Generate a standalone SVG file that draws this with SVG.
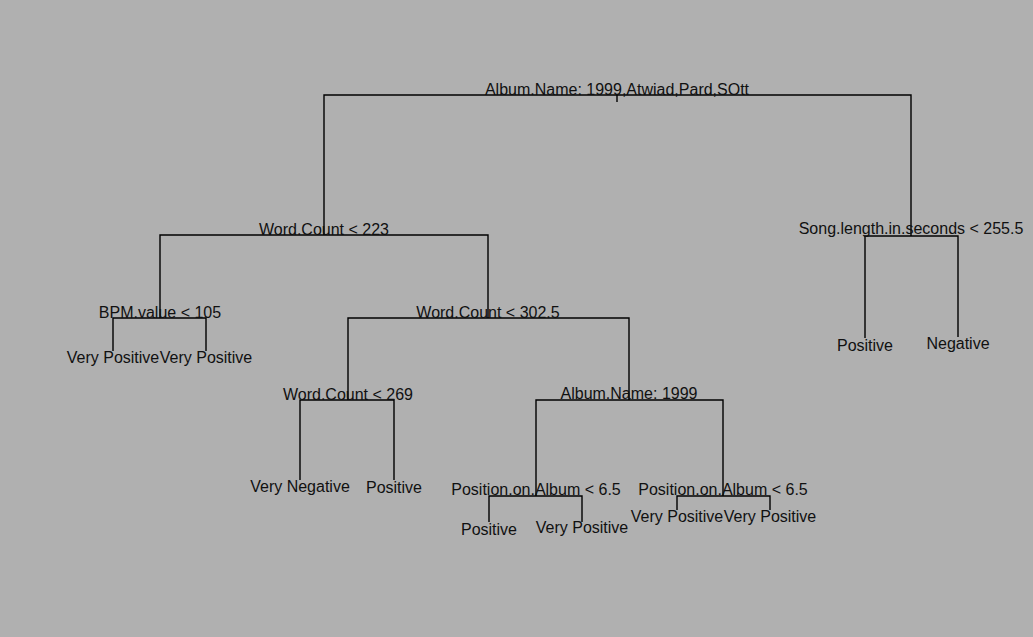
<svg xmlns="http://www.w3.org/2000/svg" width="1033" height="637" viewBox="0 0 1033 637">
<style>
.e{fill:none;stroke:#000;stroke-width:1.4}
text{font-family:"Liberation Sans",Arial,sans-serif;font-size:16px;fill:#111;text-anchor:middle}
</style>
<rect width="1033" height="637" fill="#b0b0b0"/>
<g id="connectors">
<path class="e" d="M617,102V95M324,235V95H911V236"/>
<path class="e" d="M160,318V235H488V318"/>
<path class="e" d="M865,338V236H958V337"/>
<path class="e" d="M113,351V318H206V351"/>
<path class="e" d="M348,400V318H629V400"/>
<path class="e" d="M300,480V400H394V480"/>
<path class="e" d="M536,496V400H723V496"/>
<path class="e" d="M489,522V496H582V522"/>
<path class="e" d="M677,510V496H770V510"/>
</g>
<g id="n1"><text x="617" y="95">Album.Name: 1999,Atwiad,Pard,SOtt</text></g>
<g id="n2"><text x="324" y="235">Word.Count &lt; 223</text></g>
<g id="n3"><text x="911" y="234">Song.length.in.seconds &lt; 255.5</text></g>
<g id="n4"><text x="160" y="318">BPM.value &lt; 105</text></g>
<g id="n5"><text x="488" y="318">Word.Count &lt; 302.5</text></g>
<g id="n6"><text x="113" y="363">Very Positive</text></g>
<g id="n7"><text x="206" y="363">Very Positive</text></g>
<g id="n8"><text x="348" y="400">Word.Count &lt; 269</text></g>
<g id="n9"><text x="629" y="399">Album.Name: 1999</text></g>
<g id="n10"><text x="300" y="492">Very Negative</text></g>
<g id="n11"><text x="394" y="493">Positive</text></g>
<g id="n12"><text x="536" y="495">Position.on.Album &lt; 6.5</text></g>
<g id="n13"><text x="723" y="495">Position.on.Album &lt; 6.5</text></g>
<g id="n14"><text x="489" y="535">Positive</text></g>
<g id="n15"><text x="582" y="533">Very Positive</text></g>
<g id="n16"><text x="677" y="522">Very Positive</text></g>
<g id="n17"><text x="770" y="522">Very Positive</text></g>
<g id="n18"><text x="865" y="351">Positive</text></g>
<g id="n19"><text x="958" y="349">Negative</text></g>
</svg>
